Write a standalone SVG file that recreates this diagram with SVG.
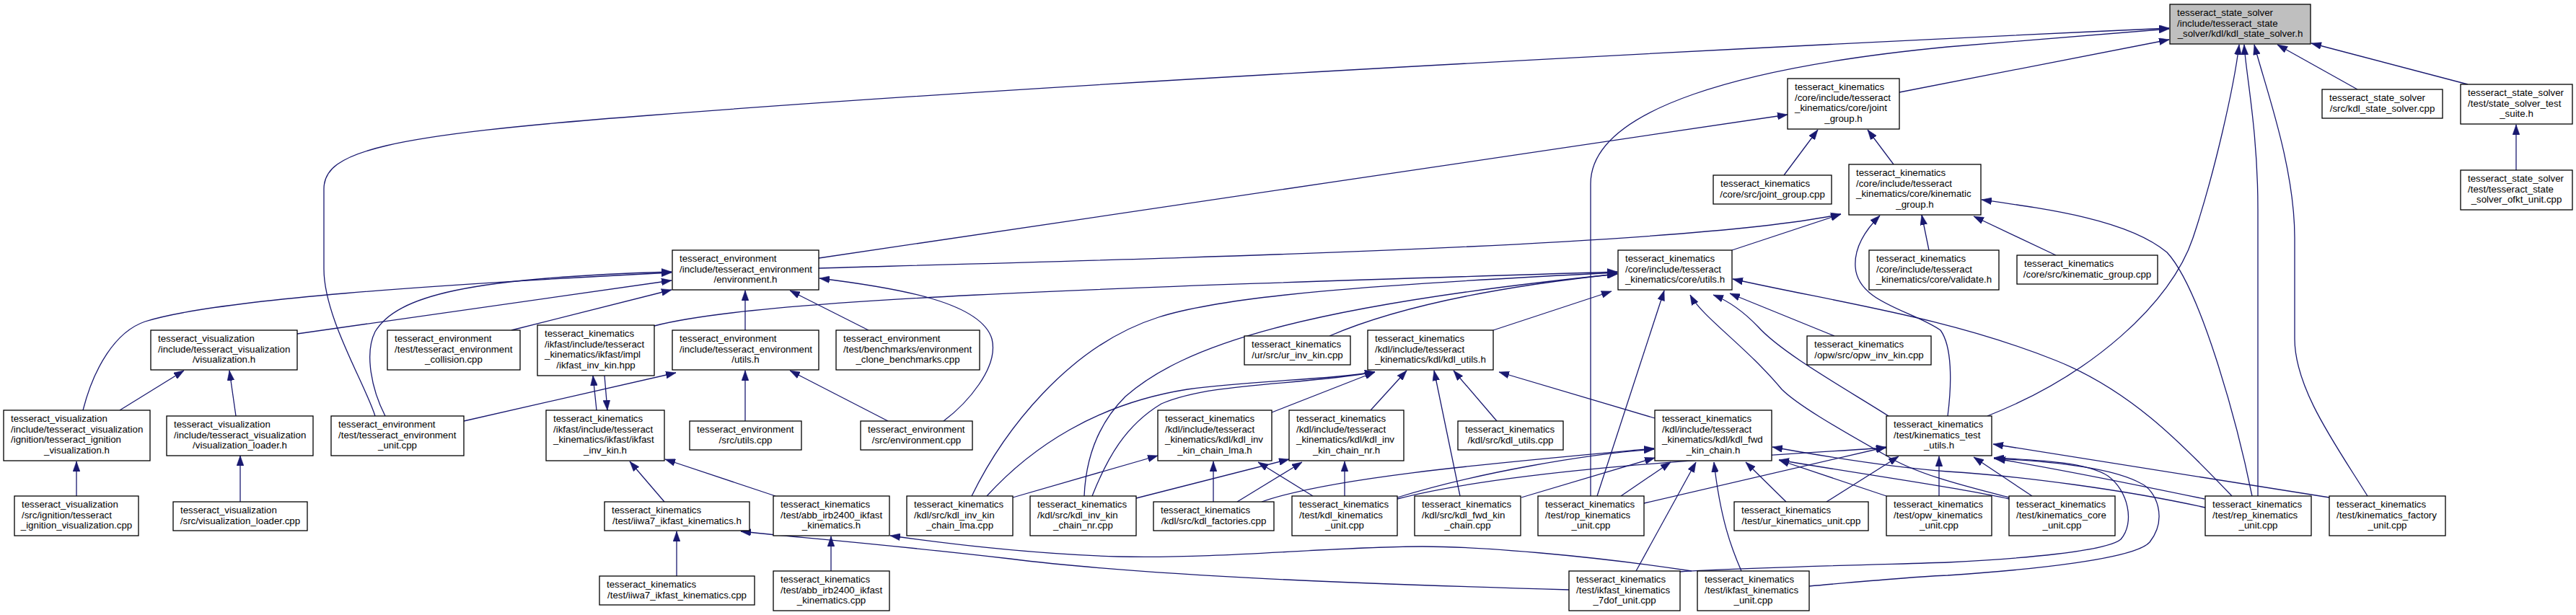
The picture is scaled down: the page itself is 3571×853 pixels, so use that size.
<svg xmlns="http://www.w3.org/2000/svg" width="3571" height="853" viewBox="0 0 3571 853">
<style>
.box{fill:#fff;stroke:#000;stroke-width:1.3}
.gray{fill:#bfbfbf}
text{font-family:"Liberation Sans",Arial,Helvetica,sans-serif;font-size:13.3px;fill:#000}
.c{text-anchor:middle}
.e{fill:none;stroke:#191970;stroke-width:1.3;marker-end:url(#ah)}
</style>
<defs>
<marker id="ah" markerUnits="userSpaceOnUse" markerWidth="14" markerHeight="10" viewBox="0 0 13.3 9.4" refX="13.3" refY="4.7" orient="auto">
<path d="M0,0 L13.3,4.7 L0,9.4 z" fill="#191970" stroke="#191970" stroke-width="0.5"/>
</marker>
</defs>
<rect width="3571" height="853" fill="#fff"/>
<g id="edges">
<path class="e" d="M3268,124 L3157,62"/>
<path class="e" d="M3421,117 L3204,60"/>
<path class="e" d="M3488,236 L3488,173"/>
<path class="e" d="M2633,128 L3007,55"/>
<path class="e" d="M520,577 C505,530 449,440 449,373 L449,262 C449,210 530,188 900,160 C1500,113 2500,62 3007,39"/>
<path class="e" d="M2205,688 L2205,255 C2205,150 2420,92 2700,65 C2850,52 2950,44 3007,40"/>
<path class="e" d="M2755,577 C2900,520 3010,420 3040,330 C3070,240 3097,120 3104,62"/>
<path class="e" d="M3130,688 L3130,290 C3130,180 3113,100 3111,62"/>
<path class="e" d="M3282,688 C3240,620 3181,540 3181,470 L3181,330 C3181,230 3140,120 3125,62"/>
<path class="e" d="M1135,358 L2478,159"/>
<path class="e" d="M1135,372 C1700,356 2350,340 2552,297"/>
<path class="e" d="M2473,243 L2520,180"/>
<path class="e" d="M2625,228 L2589,180"/>
<path class="e" d="M2401,347 L2552,297"/>
<path class="e" d="M2674,347 L2664,298"/>
<path class="e" d="M2850,354 L2736,300"/>
<path class="e" d="M3122,688 C3100,580 3050,400 3004,350 C2950,305 2840,290 2747,277"/>
<path class="e" d="M3094,688 C3020,610 2950,540 2850,500 C2700,440 2550,420 2402,387"/>
<path class="e" d="M2700,577 C2706,530 2706,480 2690,458 C2650,430 2575,420 2572,370 C2570,340 2590,315 2606,299"/>
<path class="e" d="M907,452 C1050,415 1500,400 2242,377"/>
<path class="e" d="M1347,688 C1390,600 1480,480 1606,440 C1700,410 1900,395 2242,378"/>
<path class="e" d="M1503,688 C1505,640 1520,590 1560,550 C1640,480 1800,425 2242,380"/>
<path class="e" d="M1843,466 C1950,420 2100,395 2242,380"/>
<path class="e" d="M2070,458 L2234,404"/>
<path class="e" d="M2214,688 L2307,403"/>
<path class="e" d="M2785,690 C2740,678 2660,660 2615,632 C2540,590 2490,560 2470,540 C2420,480 2360,440 2343,409"/>
<path class="e" d="M2618,577 C2560,540 2470,490 2437,453 C2410,425 2390,415 2375,409"/>
<path class="e" d="M2543,466 L2398,407"/>
<path class="e" d="M412,463 L931,389"/>
<path class="e" d="M709,458 L931,402"/>
<path class="e" d="M115,569 C130,510 160,460 201,446 C300,415 600,395 931,378"/>
<path class="e" d="M534,577 C515,540 505,490 520,460 C550,410 650,385 931,377"/>
<path class="e" d="M643,584 L937,517"/>
<path class="e" d="M1033,458 L1033,403"/>
<path class="e" d="M1204,458 L1095,403"/>
<path class="e" d="M1308,584 C1340,560 1385,510 1375,470 C1360,420 1250,400 1136,386"/>
<path class="e" d="M1231,584 L1095,514"/>
<path class="e" d="M1033,584 L1033,514"/>
<path class="e" d="M166,569 L255,514"/>
<path class="e" d="M327,577 L318,514"/>
<path class="e" d="M106,688 L106,640"/>
<path class="e" d="M333,696 L333,632"/>
<path class="e" d="M827,569 L822,521"/>
<path class="e" d="M838,521 L842,569"/>
<path class="e" d="M921,696 L873,640"/>
<path class="e" d="M1075,688 L922,637"/>
<path class="e" d="M938,799 L938,737"/>
<path class="e" d="M1152,792 L1152,744"/>
<path class="e" d="M2175,818 C1900,810 1600,800 1400,775 C1200,752 1100,745 1027,737"/>
<path class="e" d="M2345,792 C2200,770 2050,758 1972,758 C1850,758 1700,775 1550,772 C1420,768 1300,752 1234,743"/>
<path class="e" d="M1368,688 C1430,620 1520,560 1646,540 C1740,527 1830,528 1906,516"/>
<path class="e" d="M1514,688 C1535,635 1560,590 1610,560 C1680,530 1800,535 1906,516"/>
<path class="e" d="M1763,572 L1906,516"/>
<path class="e" d="M1900,569 L1950,514"/>
<path class="e" d="M2024,688 L1988,514"/>
<path class="e" d="M2075,584 L2015,514"/>
<path class="e" d="M2294,580 L2078,516"/>
<path class="e" d="M1404,690 L1605,632"/>
<path class="e" d="M1682,696 L1682,640"/>
<path class="e" d="M1820,688 L1744,641"/>
<path class="e" d="M1575,691 L1787,637"/>
<path class="e" d="M1715,696 L1805,641"/>
<path class="e" d="M1864,688 L1864,640"/>
<path class="e" d="M1749,696 C1850,660 2100,640 2293,622"/>
<path class="e" d="M1937,690 C2050,655 2200,630 2293,623"/>
<path class="e" d="M2109,690 L2294,635"/>
<path class="e" d="M2247,688 L2316,641"/>
<path class="e" d="M2268,792 L2351,641"/>
<path class="e" d="M2414,792 C2400,760 2385,720 2376,641"/>
<path class="e" d="M2476,696 L2420,641"/>
<path class="e" d="M2615,688 L2466,638"/>
<path class="e" d="M2785,692 C2720,677 2620,664 2466,638"/>
<path class="e" d="M3057,704 C2950,680 2800,660 2700,654 C2620,648 2540,635 2457,620"/>
<path class="e" d="M1937,692 C2100,650 2400,635 2615,621"/>
<path class="e" d="M2279,698 L2615,620"/>
<path class="e" d="M2532,696 L2632,633"/>
<path class="e" d="M2688,688 L2688,633"/>
<path class="e" d="M2817,688 L2736,634"/>
<path class="e" d="M3056,692 C2960,672 2850,650 2766,636"/>
<path class="e" d="M3229,690 L2763,616"/>
<path class="e" d="M2328,793 C2450,786 2650,782 2700,780 C2800,775 2920,765 2940,748 C2960,725 2950,680 2922,660 C2890,640 2820,638 2764,635"/>
<path class="e" d="M2508,813 C2600,805 2650,800 2700,798 C2820,790 2960,775 2980,752 C3005,720 2990,680 2967,670 C2930,650 2850,640 2764,636"/>
</g>
<g id="n_top"><rect class="box gray" x="3008" y="6" width="195" height="55"/><text x="3018" y="22">tesseract_state_solver</text><text x="3018" y="36.5">/include/tesseract_state</text><text class="c" x="3105.5" y="51">_solver/kdl/kdl_state_solver.h</text></g>
<g id="n_kss_cpp"><rect class="box" x="3219" y="124" width="167" height="40"/><text x="3229" y="140">tesseract_state_solver</text><text class="c" x="3302.5" y="154.5">/src/kdl_state_solver.cpp</text></g>
<g id="n_suite"><rect class="box" x="3411" y="117" width="155" height="55"/><text x="3421" y="133">tesseract_state_solver</text><text x="3421" y="147.5">/test/state_solver_test</text><text class="c" x="3488.5" y="162">_suite.h</text></g>
<g id="n_ofkt"><rect class="box" x="3411" y="236" width="155" height="55"/><text x="3421" y="252">tesseract_state_solver</text><text x="3421" y="266.5">/test/tesseract_state</text><text class="c" x="3488.5" y="281">_solver_ofkt_unit.cpp</text></g>
<g id="n_jg_h"><rect class="box" x="2478" y="109" width="155" height="70"/><text x="2488" y="125">tesseract_kinematics</text><text x="2488" y="139.5">/core/include/tesseract</text><text x="2488" y="154">_kinematics/core/joint</text><text class="c" x="2555.5" y="168.5">_group.h</text></g>
<g id="n_jg_cpp"><rect class="box" x="2375" y="243" width="164" height="40"/><text x="2385" y="259">tesseract_kinematics</text><text class="c" x="2457" y="273.5">/core/src/joint_group.cpp</text></g>
<g id="n_kg_h"><rect class="box" x="2563" y="228" width="183" height="70"/><text x="2573" y="244">tesseract_kinematics</text><text x="2573" y="258.5">/core/include/tesseract</text><text x="2573" y="273">_kinematics/core/kinematic</text><text class="c" x="2654.5" y="287.5">_group.h</text></g>
<g id="n_env_h"><rect class="box" x="932" y="347" width="203" height="55"/><text x="942" y="363">tesseract_environment</text><text x="942" y="377.5">/include/tesseract_environment</text><text class="c" x="1033.5" y="392">/environment.h</text></g>
<g id="n_env_utils_h"><rect class="box" x="932" y="458" width="203" height="55"/><text x="942" y="474">tesseract_environment</text><text x="942" y="488.5">/include/tesseract_environment</text><text class="c" x="1033.5" y="503">/utils.h</text></g>
<g id="n_clone"><rect class="box" x="1159" y="458" width="199" height="55"/><text x="1169" y="474">tesseract_environment</text><text x="1169" y="488.5">/test/benchmarks/environment</text><text class="c" x="1258.5" y="503">_clone_benchmarks.cpp</text></g>
<g id="n_vis_h"><rect class="box" x="209" y="458" width="203" height="55"/><text x="219" y="474">tesseract_visualization</text><text x="219" y="488.5">/include/tesseract_visualization</text><text class="c" x="310.5" y="503">/visualization.h</text></g>
<g id="n_coll"><rect class="box" x="537" y="458" width="184" height="55"/><text x="547" y="474">tesseract_environment</text><text x="547" y="488.5">/test/tesseract_environment</text><text class="c" x="629" y="503">_collision.cpp</text></g>
<g id="n_ikhpp"><rect class="box" x="745" y="451" width="162" height="70"/><text x="755" y="467">tesseract_kinematics</text><text x="755" y="481.5">/ikfast/include/tesseract</text><text x="755" y="496">_kinematics/ikfast/impl</text><text class="c" x="826" y="510.5">/ikfast_inv_kin.hpp</text></g>
<g id="n_core_utils"><rect class="box" x="2243" y="347" width="158" height="55"/><text x="2253" y="363">tesseract_kinematics</text><text x="2253" y="377.5">/core/include/tesseract</text><text class="c" x="2322" y="392">_kinematics/core/utils.h</text></g>
<g id="n_validate"><rect class="box" x="2591" y="347" width="180" height="55"/><text x="2601" y="363">tesseract_kinematics</text><text x="2601" y="377.5">/core/include/tesseract</text><text class="c" x="2681" y="392">_kinematics/core/validate.h</text></g>
<g id="n_kg_cpp"><rect class="box" x="2796" y="354" width="195" height="40"/><text x="2806" y="370">tesseract_kinematics</text><text class="c" x="2893.5" y="384.5">/core/src/kinematic_group.cpp</text></g>
<g id="n_ur_inv"><rect class="box" x="1725" y="466" width="147" height="40"/><text x="1735" y="482">tesseract_kinematics</text><text class="c" x="1798.5" y="496.5">/ur/src/ur_inv_kin.cpp</text></g>
<g id="n_kdl_utils_h"><rect class="box" x="1896" y="458" width="174" height="55"/><text x="1906" y="474">tesseract_kinematics</text><text x="1906" y="488.5">/kdl/include/tesseract</text><text class="c" x="1983" y="503">_kinematics/kdl/kdl_utils.h</text></g>
<g id="n_opw_inv"><rect class="box" x="2505" y="466" width="172" height="40"/><text x="2515" y="482">tesseract_kinematics</text><text class="c" x="2591" y="496.5">/opw/src/opw_inv_kin.cpp</text></g>
<g id="n_ign_h"><rect class="box" x="5" y="569" width="203" height="70"/><text x="15" y="585">tesseract_visualization</text><text x="15" y="599.5">/include/tesseract_visualization</text><text x="15" y="614">/ignition/tesseract_ignition</text><text class="c" x="106.5" y="628.5">_visualization.h</text></g>
<g id="n_vl_h"><rect class="box" x="231" y="577" width="203" height="55"/><text x="241" y="593">tesseract_visualization</text><text x="241" y="607.5">/include/tesseract_visualization</text><text class="c" x="332.5" y="622">/visualization_loader.h</text></g>
<g id="n_env_unit"><rect class="box" x="459" y="577" width="184" height="55"/><text x="469" y="593">tesseract_environment</text><text x="469" y="607.5">/test/tesseract_environment</text><text class="c" x="551" y="622">_unit.cpp</text></g>
<g id="n_ikh"><rect class="box" x="757" y="569" width="164" height="70"/><text x="767" y="585">tesseract_kinematics</text><text x="767" y="599.5">/ikfast/include/tesseract</text><text x="767" y="614">_kinematics/ikfast/ikfast</text><text class="c" x="839" y="628.5">_inv_kin.h</text></g>
<g id="n_env_utils_cpp"><rect class="box" x="956" y="584" width="155" height="40"/><text x="966" y="600">tesseract_environment</text><text class="c" x="1033.5" y="614.5">/src/utils.cpp</text></g>
<g id="n_env_cpp"><rect class="box" x="1193" y="584" width="155" height="40"/><text x="1203" y="600">tesseract_environment</text><text class="c" x="1270.5" y="614.5">/src/environment.cpp</text></g>
<g id="n_lma_h"><rect class="box" x="1605" y="569" width="158" height="70"/><text x="1615" y="585">tesseract_kinematics</text><text x="1615" y="599.5">/kdl/include/tesseract</text><text x="1615" y="614">_kinematics/kdl/kdl_inv</text><text class="c" x="1684" y="628.5">_kin_chain_lma.h</text></g>
<g id="n_nr_h"><rect class="box" x="1787" y="569" width="159" height="70"/><text x="1797" y="585">tesseract_kinematics</text><text x="1797" y="599.5">/kdl/include/tesseract</text><text x="1797" y="614">_kinematics/kdl/kdl_inv</text><text class="c" x="1866.5" y="628.5">_kin_chain_nr.h</text></g>
<g id="n_kdl_utils_cpp"><rect class="box" x="2021" y="584" width="146" height="40"/><text x="2031" y="600">tesseract_kinematics</text><text class="c" x="2094" y="614.5">/kdl/src/kdl_utils.cpp</text></g>
<g id="n_fwd_h"><rect class="box" x="2294" y="569" width="162" height="70"/><text x="2304" y="585">tesseract_kinematics</text><text x="2304" y="599.5">/kdl/include/tesseract</text><text x="2304" y="614">_kinematics/kdl/kdl_fwd</text><text class="c" x="2375" y="628.5">_kin_chain.h</text></g>
<g id="n_tu_h"><rect class="box" x="2615" y="577" width="146" height="55"/><text x="2625" y="593">tesseract_kinematics</text><text x="2625" y="607.5">/test/kinematics_test</text><text class="c" x="2688" y="622">_utils.h</text></g>
<g id="n_ign_cpp"><rect class="box" x="20" y="688" width="172" height="55"/><text x="30" y="704">tesseract_visualization</text><text x="30" y="718.5">/src/ignition/tesseract</text><text class="c" x="106" y="733">_ignition_visualization.cpp</text></g>
<g id="n_vl_cpp"><rect class="box" x="240" y="696" width="186" height="40"/><text x="250" y="712">tesseract_visualization</text><text class="c" x="333" y="726.5">/src/visualization_loader.cpp</text></g>
<g id="n_iiwa_h"><rect class="box" x="838" y="696" width="201" height="40"/><text x="848" y="712">tesseract_kinematics</text><text class="c" x="938.5" y="726.5">/test/iiwa7_ikfast_kinematics.h</text></g>
<g id="n_abb_h"><rect class="box" x="1072" y="688" width="161" height="55"/><text x="1082" y="704">tesseract_kinematics</text><text x="1082" y="718.5">/test/abb_irb2400_ikfast</text><text class="c" x="1152.5" y="733">_kinematics.h</text></g>
<g id="n_lma_cpp"><rect class="box" x="1257" y="688" width="147" height="55"/><text x="1267" y="704">tesseract_kinematics</text><text x="1267" y="718.5">/kdl/src/kdl_inv_kin</text><text class="c" x="1330.5" y="733">_chain_lma.cpp</text></g>
<g id="n_nr_cpp"><rect class="box" x="1428" y="688" width="147" height="55"/><text x="1438" y="704">tesseract_kinematics</text><text x="1438" y="718.5">/kdl/src/kdl_inv_kin</text><text class="c" x="1501.5" y="733">_chain_nr.cpp</text></g>
<g id="n_fact"><rect class="box" x="1599" y="696" width="167" height="40"/><text x="1609" y="712">tesseract_kinematics</text><text class="c" x="1682.5" y="726.5">/kdl/src/kdl_factories.cpp</text></g>
<g id="n_kdl_unit"><rect class="box" x="1791" y="688" width="146" height="55"/><text x="1801" y="704">tesseract_kinematics</text><text x="1801" y="718.5">/test/kdl_kinematics</text><text class="c" x="1864" y="733">_unit.cpp</text></g>
<g id="n_fwd_cpp"><rect class="box" x="1961" y="688" width="147" height="55"/><text x="1971" y="704">tesseract_kinematics</text><text x="1971" y="718.5">/kdl/src/kdl_fwd_kin</text><text class="c" x="2034.5" y="733">_chain.cpp</text></g>
<g id="n_rop"><rect class="box" x="2132" y="688" width="147" height="55"/><text x="2142" y="704">tesseract_kinematics</text><text x="2142" y="718.5">/test/rop_kinematics</text><text class="c" x="2205.5" y="733">_unit.cpp</text></g>
<g id="n_ur_unit"><rect class="box" x="2404" y="696" width="186" height="40"/><text x="2414" y="712">tesseract_kinematics</text><text class="c" x="2497" y="726.5">/test/ur_kinematics_unit.cpp</text></g>
<g id="n_opw_unit"><rect class="box" x="2615" y="688" width="146" height="55"/><text x="2625" y="704">tesseract_kinematics</text><text x="2625" y="718.5">/test/opw_kinematics</text><text class="c" x="2688" y="733">_unit.cpp</text></g>
<g id="n_core_unit"><rect class="box" x="2785" y="688" width="147" height="55"/><text x="2795" y="704">tesseract_kinematics</text><text x="2795" y="718.5">/test/kinematics_core</text><text class="c" x="2858.5" y="733">_unit.cpp</text></g>
<g id="n_rep"><rect class="box" x="3057" y="688" width="147" height="55"/><text x="3067" y="704">tesseract_kinematics</text><text x="3067" y="718.5">/test/rep_kinematics</text><text class="c" x="3130.5" y="733">_unit.cpp</text></g>
<g id="n_factory"><rect class="box" x="3229" y="688" width="161" height="55"/><text x="3239" y="704">tesseract_kinematics</text><text x="3239" y="718.5">/test/kinematics_factory</text><text class="c" x="3309.5" y="733">_unit.cpp</text></g>
<g id="n_iiwa_cpp"><rect class="box" x="831" y="799" width="215" height="40"/><text x="841" y="815">tesseract_kinematics</text><text class="c" x="938.5" y="829.5">/test/iiwa7_ikfast_kinematics.cpp</text></g>
<g id="n_abb_cpp"><rect class="box" x="1072" y="792" width="161" height="55"/><text x="1082" y="808">tesseract_kinematics</text><text x="1082" y="822.5">/test/abb_irb2400_ikfast</text><text class="c" x="1152.5" y="837">_kinematics.cpp</text></g>
<g id="n_7dof"><rect class="box" x="2175" y="792" width="154" height="55"/><text x="2185" y="808">tesseract_kinematics</text><text x="2185" y="822.5">/test/ikfast_kinematics</text><text class="c" x="2252" y="837">_7dof_unit.cpp</text></g>
<g id="n_ik_unit"><rect class="box" x="2353" y="792" width="155" height="55"/><text x="2363" y="808">tesseract_kinematics</text><text x="2363" y="822.5">/test/ikfast_kinematics</text><text class="c" x="2430.5" y="837">_unit.cpp</text></g>
</svg>
